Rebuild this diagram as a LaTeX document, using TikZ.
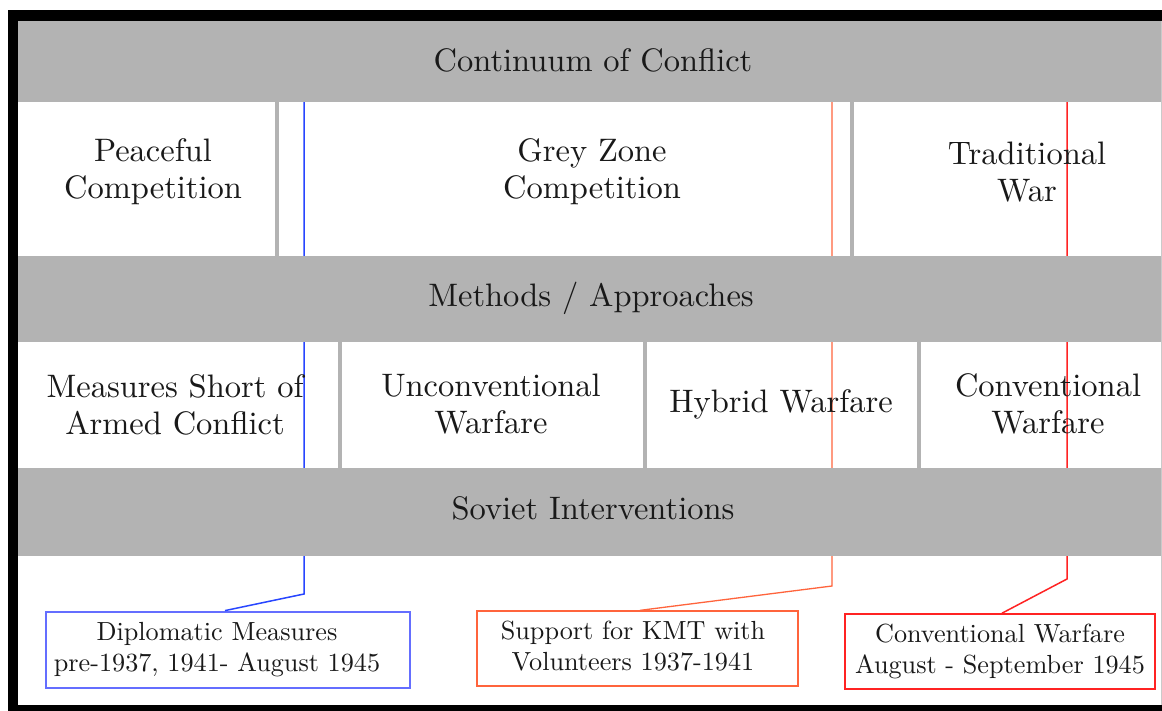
\documentclass[tikz,border=0pt]{standalone}
\usepackage{fontspec}
\setmainfont{lmroman10-regular.otf}
\definecolor{bandgrey}{RGB}{179,179,179}
\definecolor{lineblue}{RGB}{40,70,255}
\definecolor{boxblue}{RGB}{100,110,255}
\definecolor{lineorange}{RGB}{255,100,60}
\definecolor{linered}{RGB}{255,35,35}
\begin{document}
\begin{tikzpicture}[x=1pt,y=-1pt,
  band/.style={fill=bandgrey,draw=none,anchor=north west,inner sep=0pt,minimum height=#1},
  cell/.style={fill=white,draw=none,anchor=north west,inner sep=0pt},
  maintxt/.style={align=center,inner sep=0pt,text=black!90,font=\fontsize{32.5}{37}\selectfont},
  boxtxt/.style={align=center,inner sep=0pt,text=black!90,font=\fontsize{26.2}{31}\selectfont},
  conn/.style={line width=1.5pt,line join=miter}]
\useasboundingbox (0,0) rectangle (1162,711);
\fill[white] (0,0) rectangle (1162,711);
% outer black frame
\fill[black] (8,10) rectangle (1162,21);
\fill[black] (8,10) rectangle (18,711);
\fill[black] (8,705) rectangle (1162,711);
% grey base under the table
\fill[bandgrey] (18,21) rectangle (1161,556);
\draw[bandgrey!70,line width=0.8pt] (1161,21) -- (1161,705);
% white cells, row 1
\node[cell,minimum width=257,minimum height=154] (c1a) at (18,102) {};
\node[cell,minimum width=571,minimum height=154] (c1b) at (279,102) {};
\node[cell,minimum width=307,minimum height=154] (c1c) at (854,102) {};
% white cells, row 3
\node[cell,minimum width=320,minimum height=126] (c3a) at (18,342) {};
\node[cell,minimum width=301,minimum height=126] (c3b) at (342,342) {};
\node[cell,minimum width=270,minimum height=126] (c3c) at (647,342) {};
\node[cell,minimum width=240,minimum height=126] (c3d) at (921,342) {};
% boxes
\node[draw=boxblue,line width=2.8pt,minimum width=364,minimum height=76,inner sep=0pt,boxtxt] (dip) at (228,650)
  {\raisebox{6pt}{\begin{tabular}{@{}c@{}}Diplomatic Measures\\pre-1937, 1941- August 1945\end{tabular}}\hspace{22pt}};
\node[draw=lineorange,line width=1.3pt,minimum width=321,minimum height=75,inner sep=0pt,boxtxt] (kmt) at (637.5,648.5)
  {\raisebox{3pt}{\begin{tabular}{@{}c@{}}Support for KMT with\\Volunteers 1937-1941\end{tabular}}\hspace{9pt}};
\node[draw=linered,line width=1.6pt,minimum width=310,minimum height=75,inner sep=0pt,boxtxt] (cw) at (1000,651.5)
  {\raisebox{5pt}{\begin{tabular}{@{}c@{}}Conventional Warfare\\August - September 1945\end{tabular}}};
% connectors (behind the grey bands)
\coordinate (bt) at (304,102);
\coordinate (bb) at (304,594);
\coordinate (ot) at (832,102);
\coordinate (ob) at (832,586);
\coordinate (rt) at (1067,102);
\coordinate (rb) at (1067,579);
\draw[conn,lineblue] (bt) -- (bb) -- ([xshift=-3pt]dip.north);
\draw[conn,lineorange,line width=1.3pt] (ot) -- (ob) -- ([xshift=2.5pt]kmt.north);
\draw[conn,linered] (rt) -- (rb) -- ([xshift=2pt]cw.north);
% grey bands
\node[band=81,minimum width=1143] (b1) at (18,21) {};
\node[band=86,minimum width=1143] (b2) at (18,256) {};
\node[band=88,minimum width=1143] (b3) at (18,468) {};
% texts
\node[maintxt] (t1) at (593,60) {Continuum of Conflict};
\node[maintxt] (t2) at (153,172) {Peaceful\\Competition};
\node[maintxt] (t3) at (592,172) {Grey Zone\\Competition};
\node[maintxt] (t4) at (1027,172) {Traditional\\War};
\node[maintxt] (t5) at (591,298) {Methods / Approaches};
\node[maintxt] (t6) at (175,405) {Measures Short of\\Armed Conflict};
\node[maintxt] (t7) at (491,404) {Unconventional\\Warfare};
\node[maintxt] (t8) at (781,404) {Hybrid Warfare};
\node[maintxt] (t9) at (1048,404) {Conventional\\Warfare};
\node[maintxt] (t10) at (593,508) {Soviet Interventions};
\end{tikzpicture}
\end{document}
